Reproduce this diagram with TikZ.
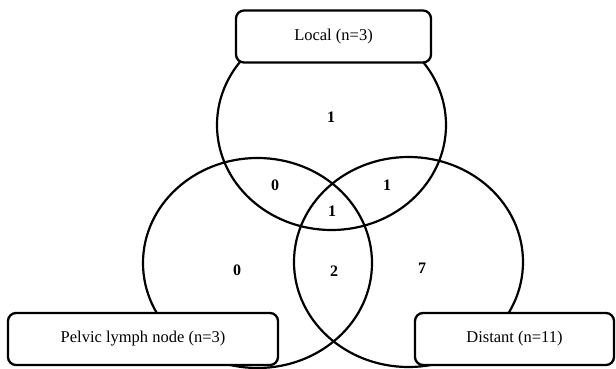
\documentclass[tikz,border=0pt]{standalone}
\usepackage{fontspec}
\setmainfont{Liberation Serif}
\usetikzlibrary{shapes.geometric}
\tikzset{
  setring/.style={ellipse, draw=black, line width=2.2pt, inner sep=0pt,
    minimum width=229pt, minimum height=210pt},
  labelbox/.style={draw=black, fill=white, line width=2.3pt, rounded corners=8pt,
    inner sep=0pt, minimum height=52pt, font=\fontsize{16.5}{18}\selectfont},
  count/.style={font=\fontsize{16}{18}\selectfont\bfseries, inner sep=0pt}
}
\begin{document}
\begin{tikzpicture}[x=1pt,y=-1pt]
\useasboundingbox (0,0) rectangle (616,369);
% three sets
\node[setring] (local)   at (331.5,125) {};
\node[setring] (pelvic)  at (257.5,263) {};
\node[setring] (distant) at (408.5,262) {};
% region counts
\node[count] (cL)   at (331,117) {1};
\node[count] (cLP)  at (275,185) {0};
\node[count] (cLD)  at (387,185) {1};
\node[count] (cLPD) at (332,211) {1};
\node[count] (cP)   at (237,270) {0};
\node[count] (cPD)  at (334,271) {2};
\node[count] (cD)   at (422,268) {7};
% set labels
\node[labelbox, minimum width=195pt] (tLocal)   at (333.5,36.5) {Local (n=3)};
\node[labelbox, minimum width=270pt] (tPelvic)  at (143,339)   {Pelvic lymph node (n=3)};
\node[labelbox, minimum width=199pt] (tDistant) at (514.5,339) {Distant (n=11)};
\end{tikzpicture}
\end{document}
